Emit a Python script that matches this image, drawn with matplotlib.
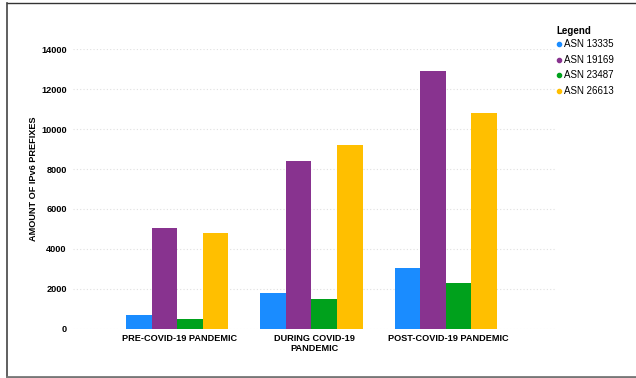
import numpy as np
import matplotlib
matplotlib.use("Agg")
import matplotlib.pyplot as plt
from matplotlib.lines import Line2D

# --- Data ---
periods = ["PRE-COVID-19 PANDEMIC", "DURING COVID-19\nPANDEMIC", "POST-COVID-19 PANDEMIC"]
asn_names = ["ASN 13335", "ASN 19169", "ASN 23487", "ASN 26613"]
asn_13335 = [690, 1790, 3040]
asn_19169 = [5050, 8400, 12900]
asn_23487 = [490, 1490, 2290]
asn_26613 = [4800, 9200, 10800]
yticks = [0, 2000, 4000, 6000, 8000, 10000, 12000, 14000]

colors = ["#1a8cff", "#88338f", "#00a11c", "#ffbf00"]

plt.rcParams["font.family"] = ["Liberation Sans", "DejaVu Sans"]

W, H = 636, 378
fig = plt.figure(figsize=(W / 100, H / 100), dpi=100)
ax = fig.add_axes([72.7 / W, 1 - 328.7 / H, (555 - 72.7) / W, (328.7 - 49.3) / H])

x = np.arange(len(periods))
bw = 0.19
series = [asn_13335, asn_19169, asn_23487, asn_26613]
for i, (vals, c) in enumerate(zip(series, colors)):
    ax.bar(x + (i - 1.5) * bw, vals, width=bw, color=c, zorder=2)

ax.set_xlim(-0.778, 2.813)
ax.set_ylim(0, 14000)
ax.set_yticks(yticks)
ax.set_yticklabels([str(t) for t in yticks], fontsize=6.6, fontweight="bold")
ax.set_xticks(x + 0.02)
ax.set_xticklabels(periods, fontsize=6.6, fontweight="bold", linespacing=1.15)
ax.tick_params(axis="both", length=0)
ax.tick_params(axis="y", pad=4.3)
ax.tick_params(axis="x", pad=4)
for s in ax.spines.values():
    s.set_visible(False)
ax.grid(axis="y", linestyle=(0, (1, 2)), color="#e0e0e0", linewidth=0.8, zorder=0)
ax.set_axisbelow(True)

fig.text(33 / W, 1 - 179 / H, "AMOUNT OF IPv6 PREFIXES", rotation=90,
         ha="center", va="center", fontsize=6.6, fontweight="bold")

# --- Legend (drawn by hand to match spacing) ---
fig.text(556.5 / W, 1 - 31 / H, "Legend", ha="left", va="center",
         fontsize=7, fontweight="bold")
for i, (name, c) in enumerate(zip(asn_names, colors)):
    yy = 1 - (44.3 + i * 15.47) / H
    fig.add_artist(Line2D([559.3 / W], [yy], marker="o", markersize=3,
                          linestyle="none", color=c))
    fig.text(563.8 / W, yy, name, ha="left", va="center", fontsize=7)

# --- Outer frame ---
fig.add_artist(Line2D([7 / W, 1], [1 - 3.3 / H, 1 - 3.3 / H], color="#333333", lw=1.0))
fig.add_artist(Line2D([7 / W, 7 / W], [1.3 / H, 1 - 3.3 / H], color="#444444", lw=1.2))
fig.add_artist(Line2D([7 / W, 1], [1.3 / H, 1.3 / H], color="#777777", lw=2.0))

fig.savefig("out.png", dpi=100)
